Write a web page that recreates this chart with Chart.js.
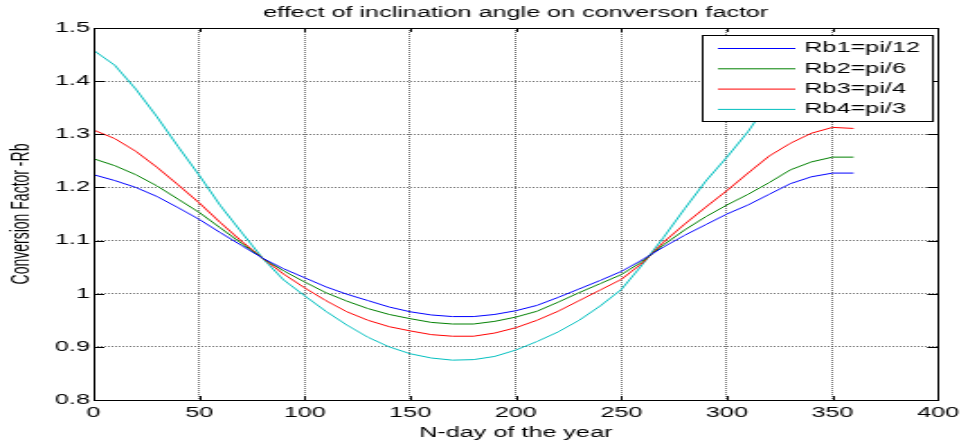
<!DOCTYPE html>
<html>
<head>
<meta charset="utf-8">
<script src="https://cdn.jsdelivr.net/npm/chart.js@4.4.1/dist/chart.umd.min.js"></script>
<style>
  html, body { margin: 0; padding: 0; background: #fff; overflow: hidden; }
  #wrap { width: 968px; height: 446px; overflow: hidden; }
  /* the reference figure is stretched horizontally, so draw narrow and stretch */
  #chart { display: block; transform: scaleX(1.7993); transform-origin: 0 0; }
</style>
</head>
<body>
<div id="wrap"><canvas id="chart" width="538" height="446"></canvas></div>
<script>
// ---------- DATA ----------
const days = [0, 10, 20, 30, 40, 50, 60, 70, 80, 90, 100, 110, 120, 130, 140, 150, 160, 170, 180,
  190, 200, 210, 220, 230, 240, 250, 260, 270, 280, 290, 300, 310, 320, 330, 340, 350, 360];

const rb1 = [1.224, 1.213, 1.200, 1.183, 1.162, 1.140, 1.115, 1.091, 1.067, 1.047, 1.030, 1.013, 0.999,
  0.987, 0.975, 0.966, 0.960, 0.957, 0.957, 0.961, 0.968, 0.978, 0.993, 1.009, 1.025, 1.042, 1.064,
  1.088, 1.110, 1.130, 1.150, 1.167, 1.187, 1.207, 1.220, 1.227, 1.227];
const rb2 = [1.254, 1.241, 1.224, 1.203, 1.178, 1.153, 1.124, 1.095, 1.067, 1.043, 1.022, 1.002, 0.986,
  0.972, 0.961, 0.953, 0.946, 0.943, 0.943, 0.948, 0.956, 0.967, 0.984, 1.002, 1.019, 1.036, 1.061,
  1.092, 1.120, 1.145, 1.167, 1.187, 1.209, 1.233, 1.248, 1.257, 1.257];
const rb3 = [1.308, 1.292, 1.268, 1.238, 1.205, 1.171, 1.134, 1.099, 1.067, 1.037, 1.011, 0.987, 0.966,
  0.950, 0.938, 0.930, 0.923, 0.920, 0.920, 0.926, 0.936, 0.950, 0.967, 0.987, 1.007, 1.027, 1.058,
  1.097, 1.131, 1.163, 1.194, 1.227, 1.259, 1.283, 1.302, 1.313, 1.311];
const rb4 = [1.458, 1.430, 1.385, 1.333, 1.277, 1.223, 1.166, 1.116, 1.067, 1.026, 0.996, 0.967, 0.941,
  0.918, 0.900, 0.887, 0.879, 0.875, 0.876, 0.882, 0.894, 0.910, 0.928, 0.950, 0.977, 1.008, 1.055,
  1.106, 1.160, 1.212, 1.257, 1.305, 1.362, 1.408, 1.440, 1.458, 1.460];

const seriesNames = ["Rb1=pi/12", "Rb2=pi/6", "Rb3=pi/4", "Rb4=pi/3"];
const seriesColors = ["#0000ff", "#008000", "#ff0000", "#00bfbf"];

const xTickValues = [0, 50, 100, 150, 200, 250, 300, 350, 400];
const xTickLabels = ["0", "50", "100", "150", "200", "250", "300", "350", "400"];
const yTickValues = [0.8, 0.9, 1.0, 1.1, 1.2, 1.3, 1.4, 1.5];
const yTickLabels = ["0.8", "0.9", "1", "1.1", "1.2", "1.3", "1.4", "1.5"];

const chartTitle = "effect of inclination angle on converson factor";
const xTitle = "N-day of the year";
const yTitle = "Conversion Factor -Rb";

// ---------- HELPERS ----------
const FONT = "'Liberation Sans', Arial, sans-serif";
const pts = vals => days.map((d, i) => ({ x: d, y: vals[i] }));

// box, inward ticks, title and legend drawn like a matlab figure
const matlabFrame = {
  id: "matlabFrame",
  afterDatasetsDraw(chart) {
    const { ctx, chartArea: a, scales: { x, y } } = chart;
    ctx.save();
    ctx.strokeStyle = "#000";
    ctx.lineWidth = 1;
    ctx.beginPath();
    xTickValues.forEach(v => {
      const px = Math.round(x.getPixelForValue(v)) + 0.5;
      ctx.moveTo(px, a.bottom); ctx.lineTo(px, a.bottom - 4);
      ctx.moveTo(px, a.top); ctx.lineTo(px, a.top + 4);
    });
    yTickValues.forEach(v => {
      const py = Math.round(y.getPixelForValue(v)) + 0.5;
      ctx.moveTo(a.left, py); ctx.lineTo(a.left + 6, py);
      ctx.moveTo(a.right, py); ctx.lineTo(a.right - 6, py);
    });
    ctx.stroke();
    ctx.strokeRect(Math.round(a.left) + 0.5, Math.round(a.top) + 0.5,
      Math.round(a.right - a.left), Math.round(a.bottom - a.top));

    // legend
    const lx = 390, ly = 35, lw = 128, lh = 86;
    ctx.fillStyle = "#fff";
    ctx.fillRect(lx, ly, lw, lh);
    ctx.strokeRect(lx + 0.5, ly + 0.5, lw, lh);
    ctx.font = `14px ${FONT}`;
    ctx.textBaseline = "middle";
    ctx.textAlign = "left";
    seriesNames.forEach((name, i) => {
      const yy = 48.5 + i * 20.3;
      ctx.strokeStyle = seriesColors[i];
      ctx.beginPath();
      ctx.moveTo(399, yy); ctx.lineTo(442, yy);
      ctx.stroke();
      ctx.fillStyle = "#000";
      ctx.fillText(name, 447, yy);
    });

    // title
    ctx.font = `14px ${FONT}`;
    ctx.textAlign = "center";
    ctx.fillStyle = "#000";
    ctx.fillText(chartTitle, (a.left + a.right) / 2, 13);
    ctx.restore();
  }
};

// ---------- CHART ----------
new Chart(document.getElementById("chart"), {
  type: "line",
  data: {
    datasets: [rb1, rb2, rb3, rb4].map((vals, i) => ({
      label: seriesNames[i],
      data: pts(vals),
      borderColor: seriesColors[i],
      borderWidth: 1,
      pointRadius: 0,
      tension: 0,
      fill: false
    }))
  },
  options: {
    responsive: false,
    animation: false,
    devicePixelRatio: 1,
    layout: { padding: { top: 28, right: 14, left: 0, bottom: 0 } },
    plugins: { legend: { display: false }, tooltip: { enabled: false } },
    scales: {
      x: {
        type: "linear",
        min: 0, max: 400,
        afterBuildTicks: s => { s.ticks = xTickValues.map(v => ({ value: v })); },
        afterFit: s => { s.height = 46; },
        ticks: {
          color: "#000", padding: 5, maxRotation: 0, autoSkip: false,
          font: { family: FONT, size: 14 },
          callback: (v, i) => xTickLabels[i]
        },
        grid: { color: "rgba(0,0,0,0.55)", lineWidth: 1, drawTicks: false },
        border: { display: false, dash: [1, 1] },
        title: { display: true, text: xTitle, color: "#000", padding: 4.6, font: { family: FONT, size: 14 } }
      },
      y: {
        type: "linear",
        min: 0.8, max: 1.5,
        afterBuildTicks: s => { s.ticks = yTickValues.map(v => ({ value: v })); },
        afterFit: s => { s.width = 52; },
        ticks: {
          color: "#000", padding: 2,
          font: { family: FONT, size: 14 },
          callback: (v, i) => yTickLabels[i]
        },
        grid: { color: "rgba(0,0,0,0.55)", lineWidth: 1, drawTicks: false },
        border: { display: false, dash: [1, 1] },
        title: { display: true, text: yTitle, color: "#000", padding: 3.3, font: { family: FONT, size: 14 } }
      }
    }
  },
  plugins: [matlabFrame]
});
</script>
</body>
</html>
